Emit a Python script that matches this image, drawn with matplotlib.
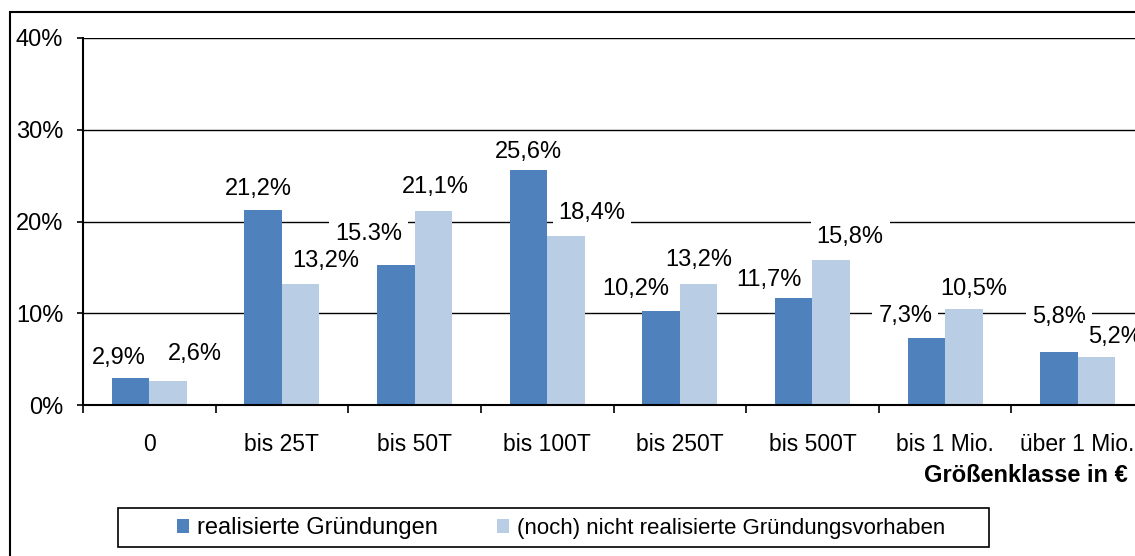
import numpy as np
import matplotlib.pyplot as plt
from matplotlib.patches import Rectangle
from matplotlib.ticker import FuncFormatter

plt.rcParams['font.family'] = ['Liberation Sans', 'DejaVu Sans']

# === Data ===
categories = ['0', 'bis 25T', 'bis 50T', 'bis 100T', 'bis 250T', 'bis 500T',
              'bis 1 Mio.', 'über 1 Mio.']
realisiert = [2.9, 21.2, 15.3, 25.6, 10.2, 11.7, 7.3, 5.8]
nicht_realisiert = [2.6, 13.2, 21.1, 18.4, 13.2, 15.8, 10.5, 5.2]
labels_real = ['2,9%', '21,2%', '15.3%', '25,6%', '10,2%', '11,7%', '7,3%', '5,8%']
labels_nicht = ['2,6%', '13,2%', '21,1%', '18,4%', '13,2%', '15,8%', '10,5%', '5,2%']

# label offsets in pixels (dx, dy) from the top centre of each bar
off_real = [(-12, 20), (-5, 21), (-27, 31), (0, 18), (-25, 22), (-25, 18), (-21, 22), (0, 35)]
off_nicht = [(27, 27), (25, 23), (2, 24), (26, 23), (0, 24), (19, 23), (10, 20), (19, 20)]

dark = '#4F81BD'
light = '#B9CDE5'

W, H = 1135, 556
fig = plt.figure(figsize=(W / 100, H / 100), dpi=100)
ax = fig.add_axes([83 / W, 1 - 405 / H, (1144 - 83) / W, (405 - 38) / H])

x = np.arange(len(categories))
bw = 0.283
b1 = ax.bar(x - bw / 2, realisiert, bw, color=dark, zorder=3, label='realisierte Gründungen')
b2 = ax.bar(x + bw / 2, nicht_realisiert, bw, color=light, zorder=3,
            label='(noch) nicht realisierte Gründungsvorhaben')

ax.set_xlim(-0.5, len(categories) - 0.5)
ax.set_ylim(0, 40)
ax.set_yticks([0, 10, 20, 30, 40])
ax.yaxis.set_major_formatter(FuncFormatter(lambda v, p: f'{v:.0f}%'))
ax.grid(axis='y', color='black', linewidth=1.0, zorder=1)
ax.set_axisbelow(True)

for s in ['top', 'right']:
    ax.spines[s].set_visible(False)
for s in ['left', 'bottom']:
    ax.spines[s].set_linewidth(1.5)
    ax.spines[s].set_zorder(4)

ax.set_xticks(x)
ax.set_xticklabels(categories)
ax.set_xticks(np.arange(-0.5, len(categories), 1.0), minor=True)
ax.tick_params(axis='x', which='major', length=0, pad=20, labelsize=16.5)
ax.tick_params(axis='x', which='minor', length=6, width=1.2, direction='out')
ax.tick_params(axis='y', length=4.3, width=1.2, pad=10, labelsize=17)

# value labels with white boxes over the gridlines (dark series first)
for xs, vals, texts, offs in [(x - bw / 2, realisiert, labels_real, off_real),
                              (x + bw / 2, nicht_realisiert, labels_nicht, off_nicht)]:
    for xi, val, txt, off in zip(xs, vals, texts, offs):
        ax.annotate(txt, xy=(xi, val), xytext=off, textcoords='offset pixels',
                    ha='center', va='center', fontsize=17, zorder=5,
                    bbox=dict(boxstyle='square,pad=0.25', fc='white', ec='none'),
                    annotation_clip=False)

fig.text(1128 / W, 1 - 475 / H, 'Größenklasse in €', ha='right', va='center',
         fontsize=17, fontweight='bold')

# legend with its own frame
fig.patches.append(Rectangle((118 / W, 1 - 547 / H), (989 - 118) / W, 39 / H,
                             transform=fig.transFigure, fill=False, ec='black', lw=1.2))
leg = fig.legend(handles=[b1, b2], loc='center left', bbox_to_anchor=(177 / W, 1 - 528 / H),
                 ncol=2, frameon=False, fontsize=17, handlelength=0.52, handleheight=0.52,
                 handletextpad=0.33, columnspacing=2.5, borderpad=0, borderaxespad=0)
leg.get_texts()[1].set_fontsize(16)

# outer border
fig.patches.append(Rectangle((10 / W, -0.1), 1.2, 1.1 - 12 / H, transform=fig.transFigure,
                             fill=False, ec='black', lw=1.5))

fig.savefig('out.png', dpi=100)
